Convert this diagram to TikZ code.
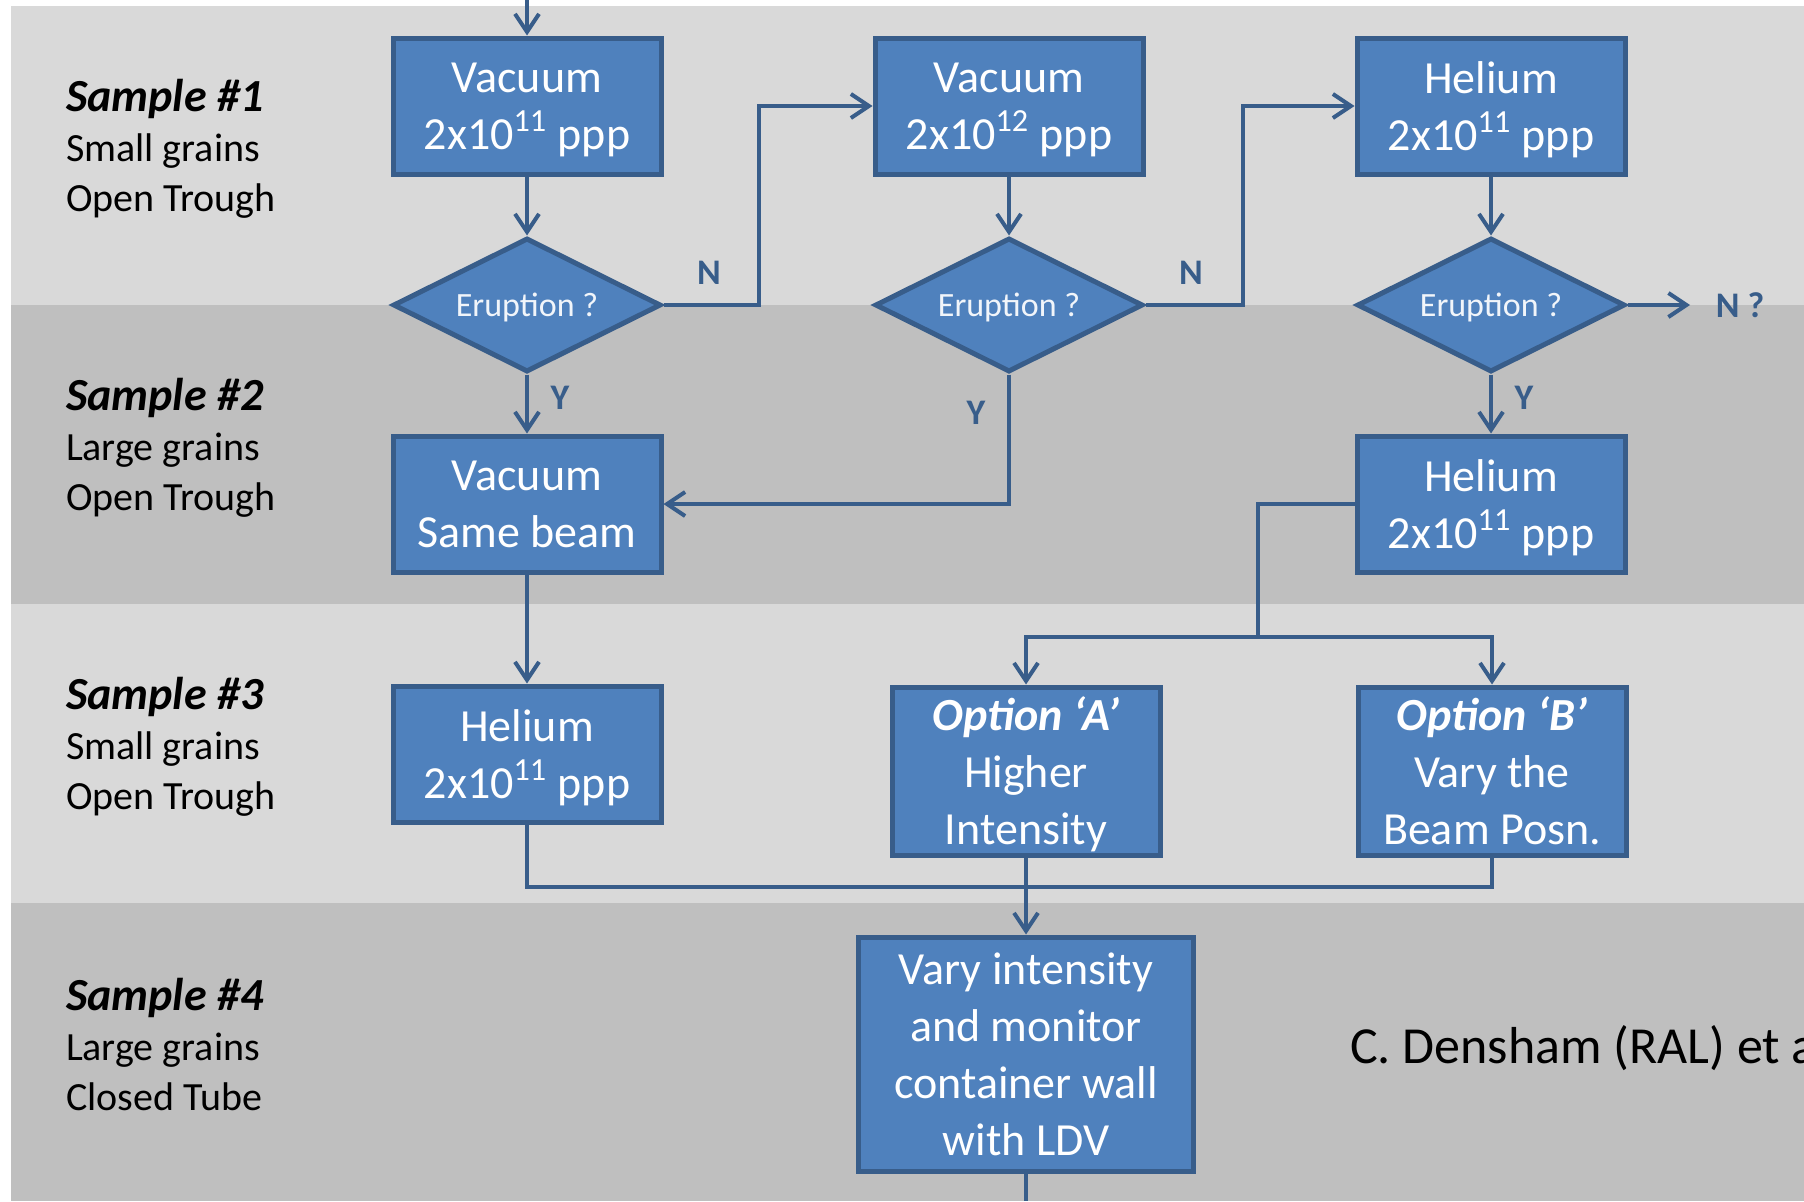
\documentclass[tikz,border=0pt]{standalone}
\usepackage{fontspec}
\setmainfont{Carlito}
\usetikzlibrary{shapes.geometric,arrows.meta}

\definecolor{boxfill}{RGB}{79,129,189}
\definecolor{boxline}{RGB}{56,93,138}
\definecolor{bandlight}{RGB}{217,217,217}
\definecolor{banddark}{RGB}{191,191,191}

\tikzset{every picture/.style={line width=2pt}}
\tikzset{
	stagebox/.style={draw=boxline, line width=2.5pt, fill=boxfill, text=white, align=center, text depth=0pt,
		minimum width=134pt, minimum height=68pt, inner sep=0pt, font=\fontsize{23}{28.5}\selectfont},
	decision/.style={diamond, aspect=2, draw=boxline, line width=2.5pt, fill=boxfill, text=white!92!boxfill, text depth=0pt,
		minimum width=134pt, minimum height=67pt, inner sep=0pt, font=\fontsize{17}{20}\selectfont},
	flow/.style={draw=boxline, line width=2pt, -{Straight Barb[length=9pt,width=12pt]}},
	link/.style={draw=boxline, line width=2pt},
	answer/.style={text=boxline, font=\bfseries\fontsize{18}{20}\selectfont},
	samplelabel/.style={anchor=west, align=left, inner sep=0pt, font=\fontsize{20}{25}\selectfont}}
\newcommand{\samplehead}[1]{{\fontsize{23}{25}\selectfont\textbf{\textit{#1}}}}

\begin{document}
\begin{tikzpicture}[x=0.5pt,y=0.5pt,yscale=-1,xscale=1]
	\clip (0,0) rectangle (1804,1201);

	%Shape: Bands
	\fill [bandlight] (11,6) rectangle (1804,305);
	\fill [banddark] (11,305) rectangle (1804,604);
	\fill [bandlight] (11,604) rectangle (1804,903);
	\fill [banddark] (11,903) rectangle (1804,1201);

	% Text Node
	\node [samplelabel] (s1) at (64,149) {\samplehead{Sample \#1}\\Small grains\\Open Trough};
	% Text Node
	\node [samplelabel] (s2) at (64,448) {\samplehead{Sample \#2}\\Large grains\\Open Trough};
	% Text Node
	\node [samplelabel] (s3) at (64,747) {\samplehead{Sample \#3}\\Small grains\\Open Trough};
	% Text Node
	\node [samplelabel] (s4) at (64,1044) {\samplehead{Sample \#4}\\Large grains\\Closed Tube};

	%Shape: Rectangle
	\node [stagebox] (vac1) at (527,106) {Vacuum\\2x10\textsuperscript{11} ppp};
	\node [stagebox] (vac2) at (1009,106) {Vacuum\\2x10\textsuperscript{12} ppp};
	\node [stagebox] (hel1) at (1491,106) {Helium\\2x10\textsuperscript{11} ppp};
	%Shape: Diamond
	\node [decision] (dec1) at (527,305) {Eruption ?};
	\node [decision] (dec2) at (1009,305) {Eruption ?};
	\node [decision] (dec3) at (1491,305) {Eruption ?};
	%Shape: Rectangle
	\node [stagebox] (vac3) at (527,504) {Vacuum\\Same beam};
	\node [stagebox] (hel2) at (1491,504) {Helium\\2x10\textsuperscript{11} ppp};
	\node [stagebox] (hel3) at (527,754) {Helium\\2x10\textsuperscript{11} ppp};
	\node [stagebox, minimum height=84pt] (optA) at (1026,771) {\textbf{\textit{Option ‘A’}}\\Higher\\Intensity};
	\node [stagebox, minimum height=84pt] (optB) at (1492,771) {\textbf{\textit{Option ‘B’}}\\Vary the\\Beam Posn.};
	\node [stagebox, minimum width=167.5pt, minimum height=117pt] (ldv) at (1026,1054) {Vary intensity\\and monitor\\container wall\\with LDV};

	% Connectors
	\coordinate (start) at (527,0);
	\coordinate (n1) at (759,305);
	\coordinate (n2) at (1243,305);
	\coordinate (n3) at (1690,305);
	\coordinate (split) at (1258,637);
	\coordinate (merge) at (1026,887);
	\coordinate (finish) at (1026,1201);
	\draw [flow] (start) -- (vac1);
	\draw [flow] (vac1) -- (dec1);
	\draw [flow] (vac2) -- (dec2);
	\draw [flow] (hel1) -- (dec3);
	\draw [flow] (dec1.east) -- (n1) |- (vac2.west);
	\draw [flow] (dec2.east) -- (n2) |- (hel1.west);
	\draw [flow] (dec3.east) -- (n3);
	\draw [flow] (dec1.south) -- (vac3.north);
	\draw [flow] (dec2.south) |- (vac3.east);
	\draw [flow] (dec3.south) -- (hel2.north);
	\draw [link] (hel2.west) -| (split);
	\draw [flow] (split) -| (optA.north);
	\draw [flow] (split) -| (optB.north);
	\draw [flow] (vac3.south) -- (hel3.north);
	\draw [link] (hel3.south) |- (merge);
	\draw [link] (optB.south) |- (merge);
	\draw [flow] (optA.south) -- (ldv.north);
	\draw [link] (ldv.south) -- (finish);

	% Text Node
	\node [answer] (no1) at (709,273) {N};
	% Text Node
	\node [answer] (no2) at (1191,273) {N};
	% Text Node
	\node [answer] (no3) at (1740,305) {N ?};
	% Text Node
	\node [answer] (yes1) at (560,398) {Y};
	% Text Node
	\node [answer] (yes2) at (976,413) {Y};
	% Text Node
	\node [answer] (yes3) at (1524,398) {Y};
	% Text Node
	\node [anchor=base west, inner sep=0pt, font=\fontsize{26}{30}\selectfont] (credit) at (1348,1063) {C. Densham (RAL) et al.};

\end{tikzpicture}
\end{document}
